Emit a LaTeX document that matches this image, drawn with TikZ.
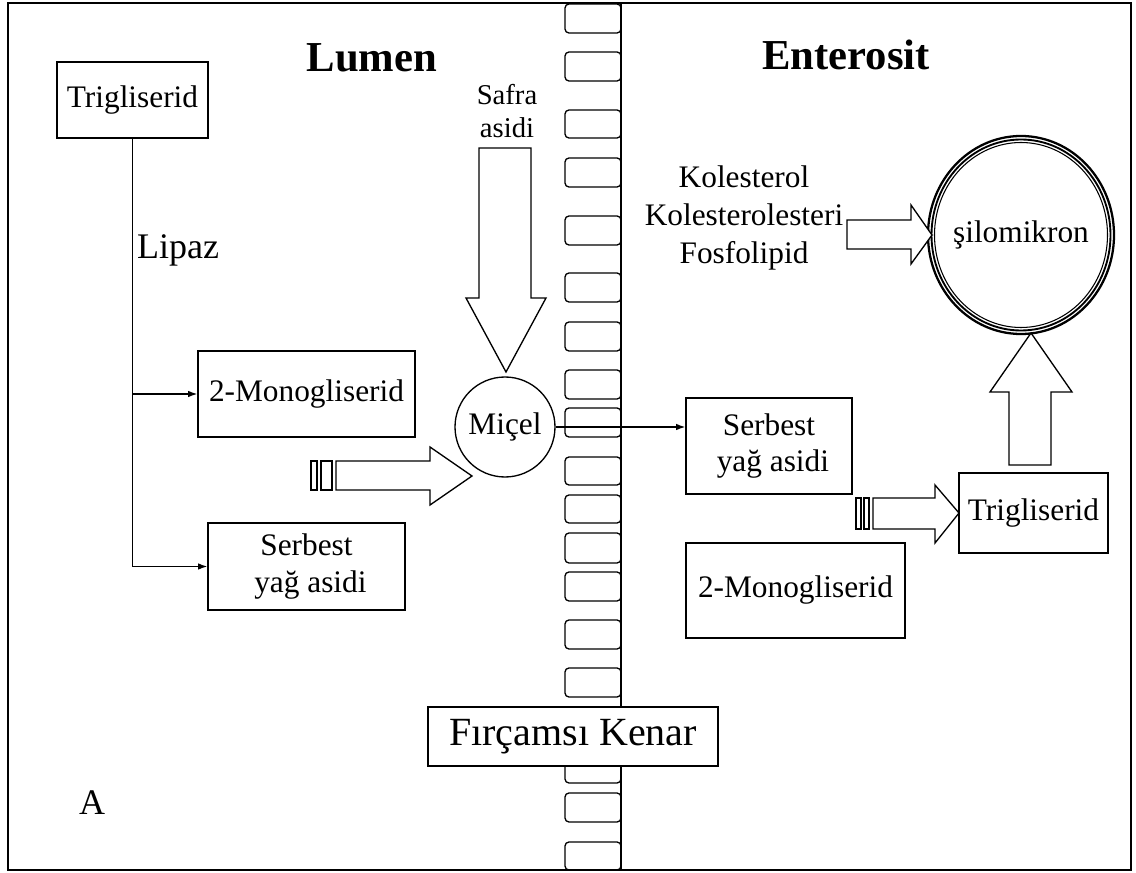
\documentclass[tikz,border=0pt]{standalone}
\usepackage{fontspec}
\setmainfont{Liberation Serif}
\usetikzlibrary{arrows.meta}
\begin{document}
\begin{tikzpicture}[x=0.75pt,y=-0.75pt, line width=1pt,
  box/.style={draw, fill=white, font=\fontsize{23.5}{27.5}\selectfont, align=center, inner sep=0pt},
  cell/.style={draw, rounded corners=3pt, line width=1pt},
  barrow/.style={draw, fill=white, line width=1pt, line join=miter},
  ln/.style={-{Latex[length=7pt,width=5pt]}},
  lbl/.style={font=\fontsize{23.5}{28.5}\selectfont, align=center, inner sep=0pt},
  ttl/.style={font=\fontsize{32}{36}\selectfont\bfseries, inner sep=0pt}]
\useasboundingbox (0,0) rectangle (1136,873);
\draw[line width=1.2pt] (8,3) rectangle (1131,870);
% membrane
\foreach \a/\b in {4/33,52/81,110/138,158/187,216/245,273/302,322/351,370/399,408/437,457/485,495/523,533/563,572/601,620/649,668/697,754/783,793/822,842/870}
  \draw[cell] (565,\a) rectangle (621,\b);
\draw (621,3) -- (621,870);
% titles
\node[ttl] (lumen) at (372,58) {Lumen};
\node[ttl] (ent) at (846,55) {Enterosit};
% left boxes
\node[box, minimum width=113.25pt, minimum height=57pt] (tgL) at (132.5,100) {Trigliserid};
\node[box, minimum width=162.75pt, minimum height=64.5pt] (moL) at (306.5,394) {2-Monogliserid};
\node[box, minimum width=147.75pt, minimum height=65.25pt] (sbL) at (306.5,566.5) {Serbest\\ \ yağ asidi};
\node[font=\fontsize{27}{30}\selectfont, inner sep=0pt] (lipaz) at (178,250) {Lipaz};
\draw[ln] (tgL.south) |- (sbL.west);
\draw[ln] (tgL.south |- moL.west) -- (moL.west);
% safra
\node[lbl, font=\fontsize{21.5}{24.75}\selectfont] (safra) at (507,111) {Safra\\asidi};
\draw[barrow] (479,148) -- (531,148) -- (531,298) -- (546,298) -- (506,372) -- (466,298) -- (479,298) -- cycle;
% micel
\node[draw, circle, minimum size=75pt, inner sep=0pt, font=\fontsize{23.5}{27}\selectfont] (mic) at (505,427) {Miçel};
% left striped arrow
\draw[barrow] (311,461) rectangle (317,490);
\draw[barrow] (321,461) rectangle (332,490);
\draw[barrow] (336,461) -- (430,461) -- (430,447) -- (472,476) -- (430,505) -- (430,490) -- (336,490) -- cycle;
% right side
\node[box, minimum width=124.5pt, minimum height=72pt] (sbR) at (769,446) {Serbest\\ \ yağ asidi};
\draw[ln] (mic.east) -- (mic.east -| sbR.west);
\node[box, minimum width=111.75pt, minimum height=60pt] (tgR) at (1033.5,513) {Trigliserid};
\node[box, minimum width=164.25pt, minimum height=71.25pt] (moR) at (795.5,590.5) {2-Monogliserid};
\draw[barrow] (856,498) rectangle (861,529);
\draw[barrow] (864,498) rectangle (869,529);
\draw[barrow] (873,498) -- (935,498) -- (935,485) -- (959,513) -- (935,543) -- (935,529) -- (873,529) -- cycle;
% chylomicron
\node[circle, minimum size=139.5pt, inner sep=0pt, font=\fontsize{23.5}{27}\selectfont] (sil) at (1021,235) {şilomikron};
\draw[line width=1.7pt] (sil.center) ellipse [x radius=93, y radius=99];
\draw[line width=1.4pt] (sil.center) ellipse [x radius=89.5, y radius=95.5];
\draw[line width=0.8pt] (sil.center) ellipse [x radius=86.5, y radius=92.5];
\draw[barrow] (1009,465) -- (1009,392) -- (990,392) -- (1031,333) -- (1072,392) -- (1051,392) -- (1051,465) -- cycle;
\node[lbl] (kol) at (744,218) {Kolesterol\\Kolesterolesteri\\Fosfolipid};
\draw[barrow] (847,220) -- (911,220) -- (911,205) -- (932,235) -- (911,264) -- (911,249) -- (847,249) -- cycle;
% brush border label
\node[box, font=\fontsize{30}{32}\selectfont, minimum width=217.5pt, minimum height=44.25pt] (kenar) at (573,736.5) {Fırçamsı Kenar};
\node[font=\fontsize{27}{30}\selectfont, inner sep=0pt] (A) at (92,803) {A};
\end{tikzpicture}
\end{document}
